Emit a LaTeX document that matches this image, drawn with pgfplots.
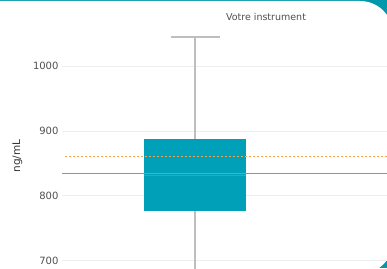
\documentclass[border=0pt]{standalone}
\usepackage{fontspec}
\setmainfont{DejaVu Sans}
\usepackage{pgfplots}
\pgfplotsset{compat=1.18}
\definecolor{framec}{RGB}{0,152,170}
\definecolor{boxc}{RGB}{0,160,184}
\definecolor{medc}{RGB}{40,170,192}
\definecolor{linec}{RGB}{60,182,202}
\definecolor{whisk}{RGB}{190,190,190}
\definecolor{gridc}{RGB}{238,238,238}
\definecolor{txt}{RGB}{80,80,80}
\begin{document}
\begin{tikzpicture}
\useasboundingbox (0pt,0pt) rectangle (387pt,268pt);
\fill[framec] (0pt,0pt) rectangle (387pt,268pt);
\fill[white, rounded corners=33pt] (-40pt,-6pt) rectangle (393pt,267pt);
\begin{axis}[
  at={(62pt,0pt)}, anchor=south west,
  scale only axis, width=325pt, height=268pt,
  xmin=-133, xmax=192,
  ymin=688.3, ymax=1101.9,
  axis line style={draw=none},
  xtick=\empty,
  ytick={700,800,900,1000},
  major tick length=0pt,
  ymajorgrids, grid style={gridc, line width=0.6pt},
  /pgf/number format/assume math mode=true,
  /pgf/number format/1000 sep={},
  yticklabel style={font=\fontsize{10}{12}\selectfont, text=txt, anchor=east},
]
% whiskers
\addplot[draw=whisk, line width=1.2pt, mark=none] coordinates {(0,887.3) (0,1044.8)};
\addplot[draw=whisk, line width=1.2pt, mark=none] coordinates {(-24.5,1044.8) (24.5,1044.8)};
\addplot[draw=whisk, line width=1.2pt, mark=none] coordinates {(0,776.7) (0,600)};
% box (Q1 to Q3)
\addplot[fill=boxc, draw=none, mark=none] coordinates {(-51,776.7) (51,776.7) (51,887.3) (-51,887.3)};
% median
\addplot[draw=medc, line width=0.6pt, mark=none] coordinates {(-51,830.6) (51,830.6)};
% reference line (solid, ~834.4) drawn as a thin filled band
\addplot[fill=linec, draw=none, mark=none] coordinates {(-133,833.5) (192,833.5) (192,835.3) (-133,835.3)};
% orange dashed line (~861)
\addplot[draw={rgb,255:red,246;green,166;blue,66}, line width=1.1pt, dash pattern=on 2pt off 2pt, mark=none] coordinates {(-130,861) (192,861)};
\end{axis}
\node[text=txt, font=\fontsize{9.5}{11}\selectfont] at (266pt,251pt) {Votre instrument};
\node[text=black!80, rotate=90, font=\fontsize{10.5}{12}\selectfont] at (17.5pt,112pt) {ng/mL};
\end{tikzpicture}
\end{document}
